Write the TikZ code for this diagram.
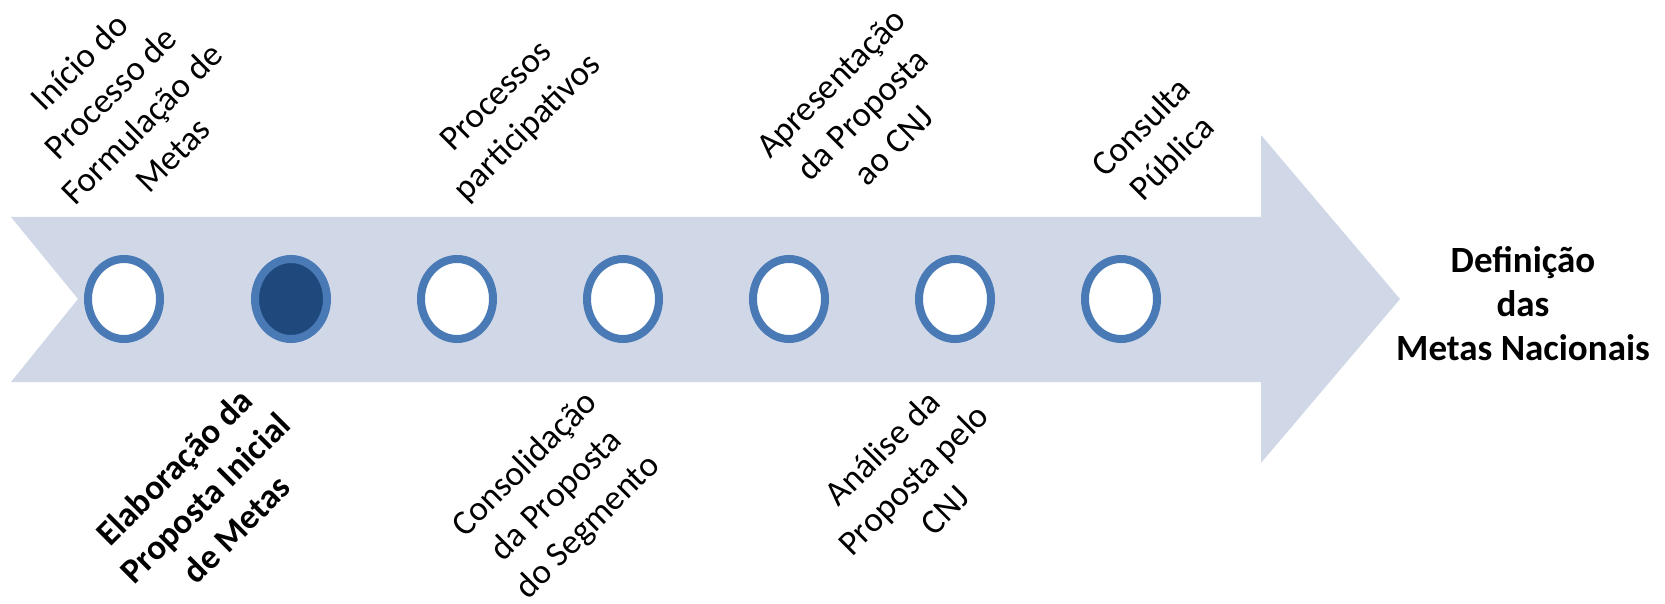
\documentclass[tikz,border=0pt]{standalone}
\usepackage{fontspec}
\setmainfont{Carlito}
\usetikzlibrary{shapes.geometric,shadows}
\definecolor{arrowfill}{HTML}{D0D8E8}
\definecolor{ringblue}{HTML}{4A7AB5}
\definecolor{darkblue}{HTML}{1F497D}
\tikzset{
  stage/.style={ellipse, draw=ringblue, line width=4pt, fill=white,
    minimum width=36pt, minimum height=40pt, inner sep=0pt,
    drop shadow={shadow xshift=0pt, shadow yshift=-1.5pt, opacity=0.35, fill=black}},
  current/.style={stage, fill=darkblue},
  lbl/.style={rotate=45, align=center, inner sep=0pt,
    font=\fontsize{17.5pt}{22pt}\selectfont},
  boldlbl/.style={lbl, font=\fontsize{17.5pt}{22pt}\selectfont\bfseries},
  goal/.style={align=center, inner sep=0pt,
    font=\fontsize{18.5pt}{22pt}\selectfont\bfseries}
}
\begin{document}
\begin{tikzpicture}[x=0.5pt, y=-0.5pt]
\useasboundingbox (0,0) rectangle (1665,604);
% main arrow
\fill[arrowfill] (11,217) -- (1261,217) -- (1261,135) -- (1400,299)
  -- (1261,463) -- (1261,382) -- (11,382) -- (78,299) -- cycle;
% stages
\node[stage]   (c1) at (124,299) {};
\node[current] (c2) at (291,299) {};
\node[stage]   (c3) at (457,299) {};
\node[stage]   (c4) at (623,299) {};
\node[stage]   (c5) at (789,299) {};
\node[stage]   (c6) at (955,299) {};
\node[stage]   (c7) at (1121,299) {};
% labels above
\node[lbl] (l1) at (126,108) {Início do\\Processo de\\Formulação de\\Metas};
\node[lbl] (l3) at (513,113) {Processos\\participativos};
\node[lbl] (l5) at (862,114) {Apresentação\\da Proposta\\ao CNJ};
\node[lbl] (l7) at (1156,142) {Consulta\\Pública};
% labels below
\node[boldlbl] (l2) at (205,498) {Elaboração da\\Proposta Inicial\\de Metas};
\node[lbl] (l4) at (557,496) {Consolidação\\da Proposta\\do Segmento};
\node[lbl] (l6) at (913,479) {Análise da\\Proposta pelo\\CNJ};
% goal
\node[goal] (goal) at (1523,304) {Definição\\das\\Metas Nacionais};
\end{tikzpicture}
\end{document}
